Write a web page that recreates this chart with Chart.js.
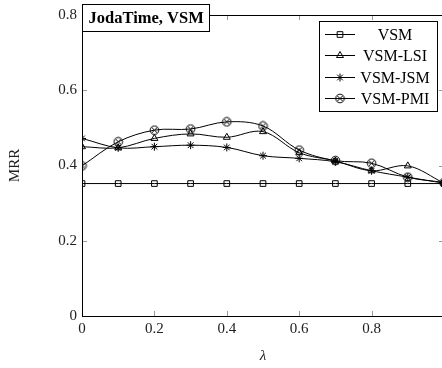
<!DOCTYPE html>
<html>
<head>
<meta charset="utf-8">
<script src="https://cdn.jsdelivr.net/npm/chart.js@4.4.0/dist/chart.umd.min.js"></script>
<style>
  html, body { margin: 0; padding: 0; background: #fff; overflow: hidden; }
  #wrap { width: 450px; height: 368px; }
</style>
</head>
<body>
<div id="wrap"><canvas id="myChart" width="450" height="368"></canvas></div>
<script>
// lambda values on the x axis
const lambdas = [0, 0.1, 0.2, 0.3, 0.4, 0.5, 0.6, 0.7, 0.8, 0.9, 1];

// MRR per series
const vsm    = [0.352, 0.352, 0.352, 0.352, 0.352, 0.352, 0.352, 0.352, 0.352, 0.352, 0.352];
const vsmLsi = [0.450, 0.447, 0.472, 0.484, 0.475, 0.490, 0.434, 0.412, 0.386, 0.399, 0.353];
const vsmJsm = [0.472, 0.447, 0.450, 0.454, 0.448, 0.426, 0.419, 0.410, 0.386, 0.369, 0.353];
const vsmPmi = [0.399, 0.463, 0.494, 0.497, 0.516, 0.505, 0.441, 0.413, 0.406, 0.369, 0.355];

const seriesNames = ["VSM", "VSM-LSI", "VSM-JSM", "VSM-PMI"];
const xTicks = [0, 0.2, 0.4, 0.6, 0.8];
const yTicks = [0, 0.2, 0.4, 0.6, 0.8];
const plotTitle = "JodaTime, VSM";

const serif = "'Liberation Serif', 'DejaVu Serif', serif";

// circle with an x inside (pgfplots otimes)
function otimes() {
  const c = document.createElement("canvas");
  c.width = 11; c.height = 11;
  const g = c.getContext("2d");
  g.strokeStyle = "#000";
  g.lineWidth = 1;
  g.beginPath();
  g.arc(5.5, 5.5, 4.3, 0, Math.PI * 2);
  g.stroke();
  g.beginPath();
  g.moveTo(2.5, 2.5); g.lineTo(8.5, 8.5);
  g.moveTo(8.5, 2.5); g.lineTo(2.5, 8.5);
  g.stroke();
  return c;
}

const markers = ["rect", "triangle", "star", otimes()];
const values = [vsm, vsmLsi, vsmJsm, vsmPmi];

const datasets = seriesNames.map((name, i) => ({
  label: name,
  data: lambdas.map((x, j) => ({ x: x, y: values[i][j] })),
  borderColor: "#000",
  backgroundColor: "rgba(0,0,0,0)",
  borderWidth: 1,
  tension: i === 0 ? 0 : 0.35,
  pointStyle: markers[i],
  pointRadius: 4,
  pointBorderWidth: 1,
  pointBorderColor: "#000",
  pointBackgroundColor: "rgba(0,0,0,0)"
}));

function drawMark(ctx, style, x, y) {
  if (style instanceof HTMLCanvasElement) {
    ctx.drawImage(style, x - style.width / 2, y - style.height / 2);
    return;
  }
  ctx.fillStyle = "rgba(0,0,0,0)";
  ctx.strokeStyle = "#000";
  ctx.lineWidth = 1;
  Chart.helpers.drawPoint(ctx, { pointStyle: style, radius: 4, rotation: 0, borderWidth: 1 }, x, y);
}

const framePlugin = {
  id: "frame",
  afterDatasetsDraw(chart) {
    const { ctx, chartArea: a, scales: { x, y } } = chart;
    ctx.save();

    // inward tick marks on all four sides
    ctx.strokeStyle = "#9a9a9a";
    ctx.lineWidth = 1;
    ctx.beginPath();
    x.ticks.forEach(t => {
      const px = Math.round(x.getPixelForValue(t.value)) + 0.5;
      ctx.moveTo(px, a.bottom); ctx.lineTo(px, a.bottom - 5);
      ctx.moveTo(px, a.top); ctx.lineTo(px, a.top + 5);
    });
    y.ticks.forEach(t => {
      const py = Math.round(y.getPixelForValue(t.value)) + 0.5;
      ctx.moveTo(a.left, py); ctx.lineTo(a.left + 5, py);
      ctx.moveTo(a.right, py); ctx.lineTo(a.right - 5, py);
    });
    ctx.stroke();

    // frame
    ctx.strokeStyle = "#000";
    ctx.strokeRect(Math.round(a.left) + 0.5, Math.round(a.top) + 0.5,
                   Math.round(a.width), Math.round(a.height));

    // title box
    ctx.font = "bold 16.5px " + serif;
    const tw = ctx.measureText(plotTitle).width;
    const bx = Math.round(a.left) + 0.5, by = 4.5, bh = 27, bw = Math.round(tw + 12);
    ctx.fillStyle = "#fff";
    ctx.fillRect(bx, by, bw, bh);
    ctx.strokeRect(bx, by, bw, bh);
    ctx.fillStyle = "#000";
    ctx.textBaseline = "middle";
    ctx.textAlign = "left";
    ctx.fillText(plotTitle, bx + 6, by + bh / 2 + 1);

    // legend box
    const lx = 319.5, ly = 21.5, lw = 118, lh = 90;
    ctx.fillStyle = "#fff";
    ctx.fillRect(lx, ly, lw, lh);
    ctx.strokeRect(lx, ly, lw, lh);
    ctx.font = "16px " + serif;
    ctx.textAlign = "center";
    chart.data.datasets.forEach((ds, i) => {
      const ry = Math.round(34 + i * 21.3) + 0.5;
      ctx.strokeStyle = "#000";
      ctx.beginPath();
      ctx.moveTo(325, ry); ctx.lineTo(355, ry);
      ctx.stroke();
      drawMark(ctx, ds.pointStyle, 340, ry);
      ctx.fillStyle = "#000";
      ctx.fillText(ds.label, 395, ry + 1);
    });

    ctx.restore();
  }
};

let ctx = document.getElementById("myChart").getContext("2d");
let myChart = new Chart(ctx, {
  type: "line",
  data: { datasets: datasets },
  options: {
    responsive: false,
    animation: false,
    layout: { padding: { top: 15, right: 6, left: 0, bottom: 0 } },
    plugins: { legend: { display: false }, tooltip: { enabled: false } },
    scales: {
      x: {
        type: "linear",
        min: 0,
        max: 1,
        afterBuildTicks: s => { s.ticks = xTicks.map(v => ({ value: v })); },
        afterFit: s => { s.height = 52; },
        grid: { display: false, drawTicks: false },
        border: { display: false },
        ticks: { color: "#222", padding: 4, font: { family: serif, size: 15 } },
        title: { display: true, text: "λ", color: "#222",
                 font: { family: serif, size: 15, style: "italic" }, padding: { top: 0, bottom: 3 } }
      },
      y: {
        min: 0,
        max: 0.8,
        afterBuildTicks: s => { s.ticks = yTicks.map(v => ({ value: v })); },
        afterFit: s => { s.width = 82; },
        grid: { display: false, drawTicks: false },
        border: { display: false },
        ticks: { color: "#222", padding: 5, font: { family: serif, size: 15 } },
        title: { display: true, text: "MRR", color: "#222",
                 font: { family: serif, size: 15 }, padding: { top: 6, bottom: 0 } }
      }
    }
  },
  plugins: [framePlugin]
});
</script>
</body>
</html>
